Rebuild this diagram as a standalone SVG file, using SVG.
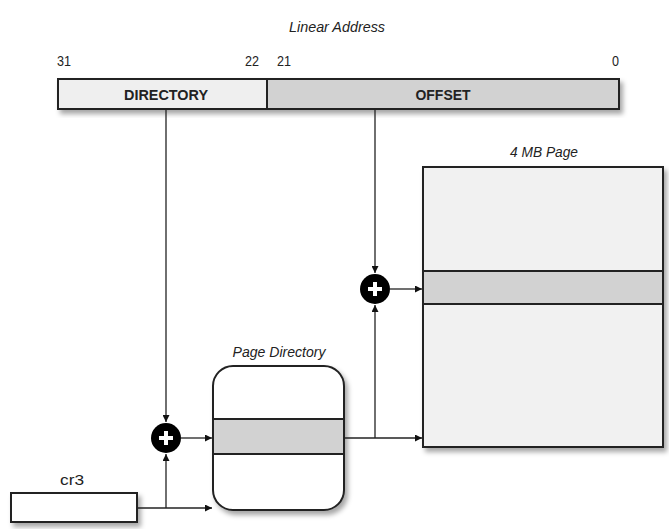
<svg xmlns="http://www.w3.org/2000/svg" width="669" height="529" viewBox="0 0 669 529">
<defs>
<filter id="sh" x="-10%" y="-10%" width="130%" height="140%">
<feDropShadow dx="3" dy="4" stdDeviation="2.5" flood-color="#000" flood-opacity="0.35"/>
</filter>
<marker id="ah" viewBox="0 0 10 10" refX="10" refY="5" markerWidth="7" markerHeight="7" markerUnits="userSpaceOnUse" orient="auto">
<path d="M0,0 L10,5 L0,10 z" fill="#111"/>
</marker>
</defs>
<style>
.t{font-family:"Liberation Sans Narrow","Liberation Sans",Arial,sans-serif;fill:#222}
.it{font-style:italic;font-size:15px}
.num{font-size:15px}
.b{font-weight:bold;font-size:15px}
.box{stroke:#222;stroke-width:2}
.ln{stroke:#222;stroke-width:1.3;fill:none}
.band{fill:#d2d2d2;stroke:#222;stroke-width:2}
</style>
<rect width="669" height="529" fill="#fff"/>

<g id="linear-address">
<text class="t it" x="337" y="32" text-anchor="middle" textLength="96" lengthAdjust="spacingAndGlyphs">Linear Address</text>
<text class="t num" x="57" y="66" textLength="14" lengthAdjust="spacingAndGlyphs">31</text>
<text class="t num" x="245" y="66" textLength="14" lengthAdjust="spacingAndGlyphs">22</text>
<text class="t num" x="277" y="66" textLength="14" lengthAdjust="spacingAndGlyphs">21</text>
<text class="t num" x="612" y="66" textLength="7" lengthAdjust="spacingAndGlyphs">0</text>
<g filter="url(#sh)">
<rect class="box" x="58" y="79" width="209" height="30" fill="#efefef"/>
<rect class="box" x="267" y="79" width="352" height="30" fill="#d2d2d2"/>
</g>
<text class="t b" x="166" y="100" text-anchor="middle" textLength="84" lengthAdjust="spacingAndGlyphs">DIRECTORY</text>
<text class="t b" x="443" y="100" text-anchor="middle" textLength="55" lengthAdjust="spacingAndGlyphs">OFFSET</text>
</g>

<g id="page-4mb">
<text class="t it" x="544" y="157" text-anchor="middle" textLength="68" lengthAdjust="spacingAndGlyphs">4 MB Page</text>
<rect class="box" x="423" y="167" width="240" height="280" fill="#f1f1f1" filter="url(#sh)"/>
<rect class="band" x="423" y="271" width="240" height="33"/>
</g>

<g id="page-directory">
<text class="t it" x="279" y="357" text-anchor="middle" textLength="93" lengthAdjust="spacingAndGlyphs">Page Directory</text>
<rect class="box" x="213" y="366" width="131" height="144" rx="20" fill="#fff" filter="url(#sh)"/>
<rect class="band" x="213" y="419" width="131" height="35"/>
</g>

<g id="cr3">
<text class="t num" x="72" y="485" text-anchor="middle" textLength="24" lengthAdjust="spacingAndGlyphs">cr3</text>
<rect class="box" x="11" y="493" width="126" height="29" fill="#fff" filter="url(#sh)"/>
</g>

<g id="adder-top">
<circle cx="375" cy="289" r="15" fill="#000"/>
<path d="M368,289 H382 M375,282 V296" stroke="#fff" stroke-width="4"/>
</g>

<g id="adder-bottom">
<circle cx="166" cy="438" r="15" fill="#000"/>
<path d="M159,438 H173 M166,431 V445" stroke="#fff" stroke-width="4"/>
</g>

<g id="connectors">
<path class="ln" d="M166,109 V422" marker-end="url(#ah)"/>
<path class="ln" d="M375,109 V273" marker-end="url(#ah)"/>
<path class="ln" d="M390,289 H422" marker-end="url(#ah)"/>
<path class="ln" d="M181,438 H212" marker-end="url(#ah)"/>
<path class="ln" d="M344,438 H422" marker-end="url(#ah)"/>
<path class="ln" d="M375,438 V305" marker-end="url(#ah)"/>
<path class="ln" d="M137,508 H212" marker-end="url(#ah)"/>
<path class="ln" d="M166,508 V454" marker-end="url(#ah)"/>
</g>
</svg>
